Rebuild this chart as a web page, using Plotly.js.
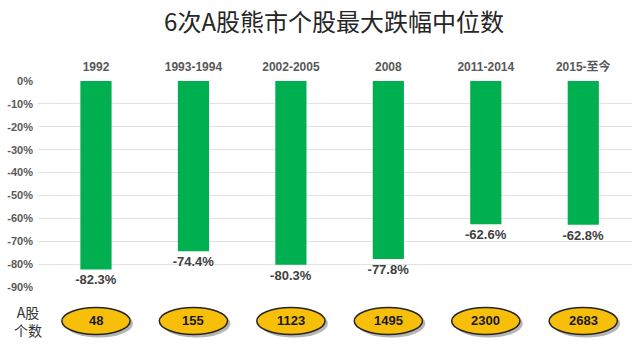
<!DOCTYPE html>
<html>
<head>
<meta charset="utf-8">
<script src="https://cdn.plot.ly/plotly-3.0.1.min.js"></script>
<style>html,body{margin:0;padding:0;background:#fff;}#chart{width:640px;height:352px;}</style>
</head>
<body>
<div id="chart"></div>
<script>
const categories = ["1992", "1993-1994", "2002-2005", "2008", "2011-2014", "2015-至今"];
const drops = [-0.823, -0.744, -0.803, -0.778, -0.626, -0.628];
const stockCounts = ["48", "155", "1123", "1495", "2300", "2683"];
const yTickVals = [0, -0.1, -0.2, -0.3, -0.4, -0.5, -0.6, -0.7, -0.8, -0.9];
const yTickText = ["0%", "-10%", "-20%", "-30%", "-40%", "-50%", "-60%", "-70%", "-80%", "-90%"];

const xIdx = categories.map((c, i) => i);

const trace = {
  type: "bar",
  x: xIdx,
  y: drops,
  width: 0.32,
  marker: { color: "#00B050" },
  text: drops.map(v => (v * 100).toFixed(1) + "%"),
  textposition: "outside",
  constraintext: "none",
  cliponaxis: false,
  textfont: { family: "Arial, Liberation Sans, sans-serif", size: 13, color: "#404040", weight: "bold" },
  hoverinfo: "none"
};

const shapes = [];
const annotations = [];
xIdx.forEach((i) => {
  shapes.push({ type: "circle", xref: "x", yref: "paper",
    x0: i - 0.32, x1: i + 0.38, y0: -0.245, y1: -0.11,
    fillcolor: "rgba(110,110,110,0.5)", line: { width: 0 }, layer: "above" });
  shapes.push({ type: "circle", xref: "x", yref: "paper",
    x0: i - 0.35, x1: i + 0.35, y0: -0.23, y1: -0.10,
    fillcolor: "#F7BF0A", line: { color: "#262626", width: 1.5 }, layer: "above" });
  annotations.push({ xref: "x", yref: "paper", x: i, y: -0.165, xanchor: "center", yanchor: "middle",
    text: stockCounts[i], showarrow: false,
    font: { family: "Arial, Liberation Sans, sans-serif", size: 13, color: "#1a1a1a", weight: "bold" } });
});
annotations.push({ xref: "paper", yref: "paper", x: -0.017, y: -0.165, xanchor: "center", yanchor: "middle",
  text: "A股<br>个数", showarrow: false, align: "center",
  font: { family: "Noto Sans CJK SC, sans-serif", size: 14, color: "#333333" } });

const layout = {
  width: 640, height: 352,
  margin: { l: 38, r: 8, t: 81, b: 65 },
  paper_bgcolor: "#ffffff", plot_bgcolor: "#ffffff",
  showlegend: false,
  title: { text: "6次A股熊市个股最大跌幅中位数", x: 0.522, xanchor: "center", y: 0.935, yanchor: "middle",
    font: { family: "Noto Sans CJK SC, sans-serif", size: 24, color: "#262626" } },
  xaxis: {
    side: "top", range: [-0.595, 5.5], tickvals: xIdx, ticktext: categories,
    showgrid: false, zeroline: false, showline: false, ticks: "", ticklabelstandoff: 7,
    tickfont: { family: "Arial, Noto Sans CJK SC, sans-serif", size: 12, color: "#595959", weight: "bold" },
    fixedrange: true
  },
  yaxis: {
    range: [-0.9, 0], tickvals: yTickVals, ticktext: yTickText,
    showgrid: true, gridcolor: "#e3e3e3", gridwidth: 1, zeroline: false, showline: false,
    ticks: "", ticklabelstandoff: 4,
    tickfont: { family: "Arial, Liberation Sans, sans-serif", size: 11, color: "#595959", weight: "bold" },
    fixedrange: true
  },
  shapes: shapes,
  annotations: annotations
};

Plotly.newPlot("chart", [trace], layout, { displayModeBar: false, staticPlot: true });
</script>
</body>
</html>
